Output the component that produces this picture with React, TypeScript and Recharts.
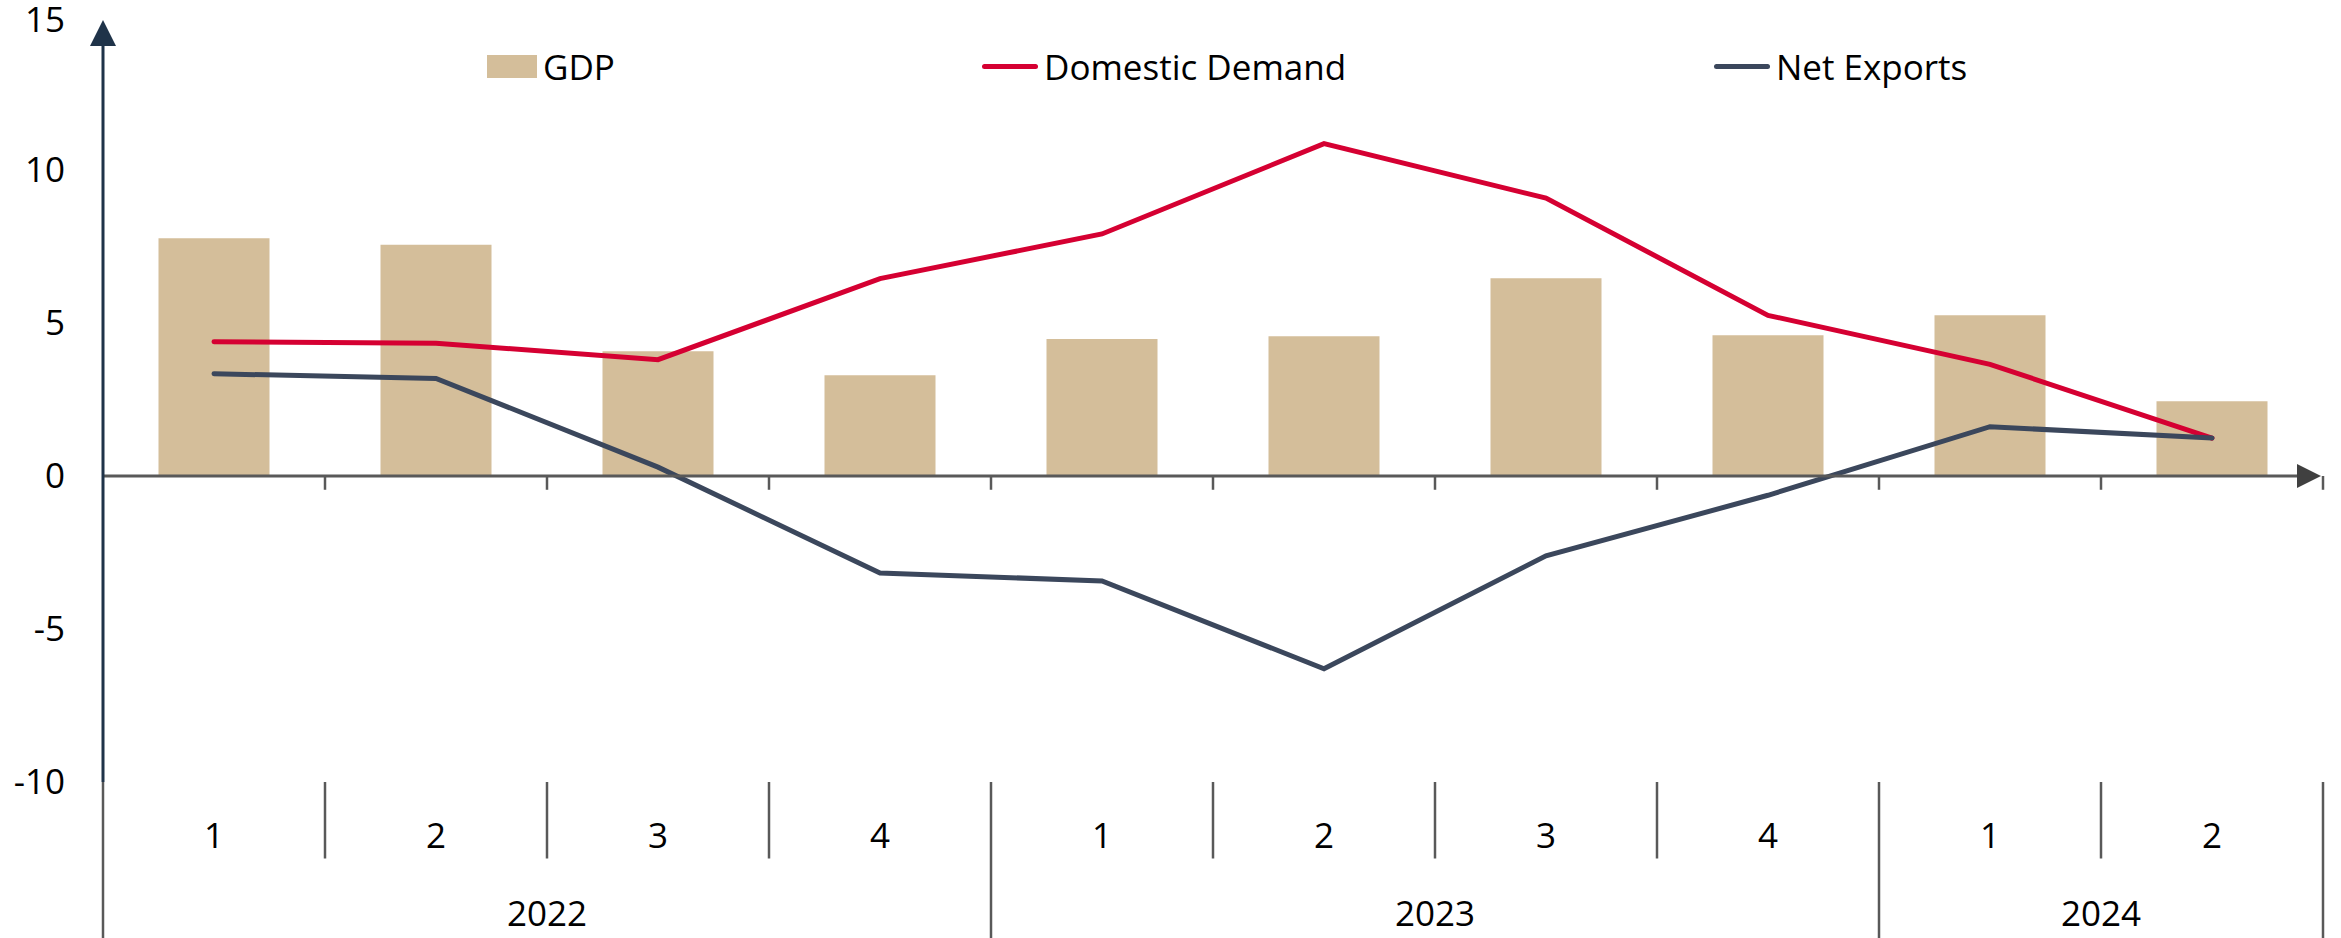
import {
  ComposedChart,
  Bar,
  Line,
  XAxis,
  YAxis,
  Legend,
  ReferenceLine,
} from "recharts";

const periods = ["2022Q1", "2022Q2", "2022Q3", "2022Q4", "2023Q1", "2023Q2", "2023Q3", "2023Q4", "2024Q1", "2024Q2"];
const quarters = ["1", "2", "3", "4", "1", "2", "3", "4", "1", "2"];
const gdp = [7.77, 7.56, 4.08, 3.29, 4.48, 4.57, 6.46, 4.6, 5.25, 2.44];
const domesticDemand = [4.39, 4.34, 3.8, 6.45, 7.91, 10.86, 9.08, 5.25, 3.65, 1.24];
const netExports = [3.34, 3.19, 0.29, -3.17, -3.43, -6.3, -2.61, -0.63, 1.61, 1.24];
const years = ["2022", "2023", "2024"];
const quartersPerYear = [4, 4, 2];
const yTicks = [-10, -5, 0, 5, 10, 15];

const FONT = "'Open Sans', sans-serif";
const GDP_COLOR = "#D4BE9A";
const DD_COLOR = "#D50032";
const NX_COLOR = "#3B475C";
const AXIS_GRAY = "#595959";

const data = periods.map((p, i) => ({
  period: p,
  quarter: quarters[i],
  gdp: gdp[i],
  dd: domesticDemand[i],
  nx: netExports[i],
}));

const yearStarts = quartersPerYear.reduce<number[]>((acc, n) => [...acc, acc[acc.length - 1] + n], [0]).slice(0, -1);
const last = periods.length - 1;
const innerEdges = periods.map((_, i) => i).filter((i) => i > 0 && !yearStarts.includes(i));

const yAxisArrow = (props: any) => {
  const { x1, y1, y2 } = props;
  const top = Math.min(y1, y2) + 3;
  const bottom = Math.max(y1, y2);
  return (
    <g>
      <line x1={x1} y1={bottom} x2={x1} y2={top + 26} stroke="#1F3349" strokeWidth={3} />
      <polygon points={`${x1},${top} ${x1 - 13},${top + 26} ${x1 + 13},${top + 26}`} fill="#1F3349" />
    </g>
  );
};

const xAxisArrow = (props: any) => {
  const { x1, x2, y1 } = props;
  const left = Math.min(x1, x2);
  const right = Math.max(x1, x2) - 2;
  return (
    <g>
      <line x1={left} y1={y1} x2={right - 22} y2={y1} stroke={AXIS_GRAY} strokeWidth={3} />
      <polygon points={`${right},${y1} ${right - 24},${y1 - 12} ${right - 24},${y1 + 12}`} fill="#404040" />
    </g>
  );
};

const legendItems = [
  { name: "GDP", color: GDP_COLOR, kind: "rect", left: 487 },
  { name: "Domestic Demand", color: DD_COLOR, kind: "line", left: 982 },
  { name: "Net Exports", color: NX_COLOR, kind: "line", left: 1714 },
];

const renderLegend = () => (
  <div style={{ position: "relative", height: 110, fontFamily: FONT, fontSize: 35, color: "#000" }}>
    {legendItems.map((it) => (
      <div
        key={it.name}
        style={{ position: "absolute", left: it.left, top: 46, height: 40, display: "flex", alignItems: "center", gap: 6, whiteSpace: "nowrap" }}
      >
        {it.kind === "rect" ? (
          <span style={{ display: "inline-block", width: 50, height: 23, background: it.color }} />
        ) : (
          <span style={{ display: "inline-block", width: 56, height: 5, borderRadius: 3, background: it.color }} />
        )}
        <span>{it.name}</span>
      </div>
    ))}
  </div>
);

const sep = (key: string, idx: number, pos: "start" | "end", yEnd: number) => (
  <ReferenceLine
    key={key}
    xAxisId="cat"
    segment={[{ x: periods[idx], y: -10 }, { x: periods[idx], y: yEnd }]}
    position={pos}
    ifOverflow="visible"
    stroke={AXIS_GRAY}
    strokeWidth={2.5}
  />
);

const zeroTick = (key: string, idx: number, pos: "start" | "end") => (
  <ReferenceLine
    key={key}
    xAxisId="cat"
    segment={[{ x: periods[idx], y: 0 }, { x: periods[idx], y: -0.45 }]}
    position={pos}
    ifOverflow="visible"
    stroke={AXIS_GRAY}
    strokeWidth={2.5}
  />
);

// year label sits at the middle of its group of quarters
const yearLabel = (i: number) => {
  const n = quartersPerYear[i];
  const even = n % 2 === 0;
  const idx = yearStarts[i] + (even ? n / 2 : (n - 1) / 2);
  return (
    <ReferenceLine
      key={"yl" + i}
      xAxisId="cat"
      segment={[{ x: periods[idx], y: -14.3 }, { x: periods[idx], y: -14.3 }]}
      position={even ? "start" : "middle"}
      ifOverflow="visible"
      stroke="none"
      label={{ value: years[i], position: "center", fill: "#000", fontSize: 35, fontFamily: FONT }}
    />
  );
};

export default function App() {
  return (
    <div style={{ position: "absolute", left: 0, top: 0, background: "#fff" }}>
      <ComposedChart
        width={2341}
        height={938}
        data={data}
        margin={{ top: 17, right: 18, bottom: 0, left: 0 }}
        barCategoryGap="25%"
      >
        <XAxis
          xAxisId="cat"
          dataKey="period"
          height={156}
          axisLine={false}
          tickLine={false}
          tickSize={0}
          tickMargin={41}
          interval={0}
          tickFormatter={(v, i) => quarters[i]}
          tick={{ fill: "#000", fontSize: 35, fontFamily: FONT }}
        />
        <YAxis
          domain={[-10, 15]}
          ticks={yTicks}
          allowDataOverflow
          width={103}
          axisLine={false}
          tickLine={false}
          tickSize={0}
          tickMargin={38}
          tick={{ fill: "#000", fontSize: 35, fontFamily: FONT }}
        />
        <Legend
          content={renderLegend}
          layout="horizontal"
          verticalAlign="middle"
          align="center"
          wrapperStyle={{ top: 0, left: 0, width: 2341, height: 110 }}
        />
        <Bar xAxisId="cat" dataKey="gdp" name="GDP" fill={GDP_COLOR} isAnimationActive={false} />
        <Line
          xAxisId="cat"
          dataKey="dd"
          name="Domestic Demand"
          type="linear"
          stroke={DD_COLOR}
          strokeWidth={5}
          strokeLinecap="round"
          dot={false}
          activeDot={false}
          isAnimationActive={false}
        />
        <Line
          xAxisId="cat"
          dataKey="nx"
          name="Net Exports"
          type="linear"
          stroke={NX_COLOR}
          strokeWidth={5}
          strokeLinecap="round"
          dot={false}
          activeDot={false}
          isAnimationActive={false}
        />
        {/* zero line with arrow and small ticks */}
        <ReferenceLine xAxisId="cat" y={0} ifOverflow="visible" shape={xAxisArrow} />
        {periods.map((_, i) => (i > 0 ? zeroTick("zt" + i, i, "start") : null))}
        {zeroTick("zt-end", last, "end")}
        {/* category separators below the plot */}
        {innerEdges.map((i) => sep("q" + i, i, "start", -12.5))}
        {yearStarts.map((i) => sep("y" + i, i, "start", -15.5))}
        {sep("y-end", last, "end", -15.5)}
        {years.map((_, i) => yearLabel(i))}
        {/* y axis with arrow */}
        <ReferenceLine xAxisId="cat" x={periods[0]} position="start" ifOverflow="visible" shape={yAxisArrow} />
      </ComposedChart>
    </div>
  );
}
